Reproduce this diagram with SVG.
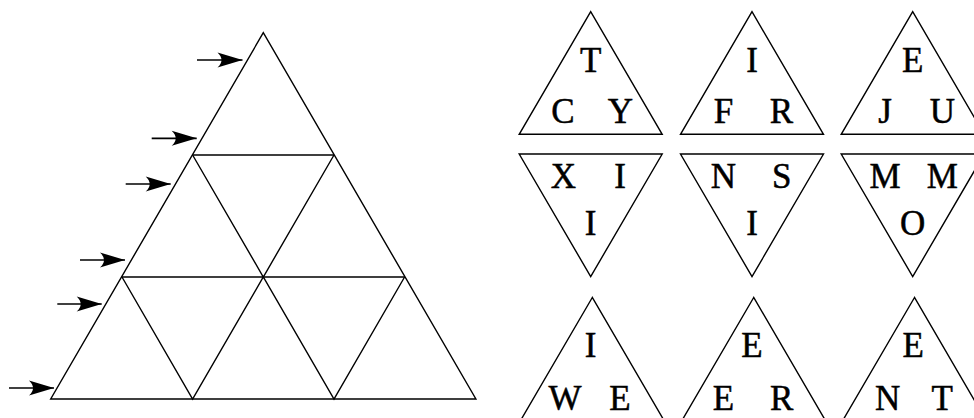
<svg xmlns="http://www.w3.org/2000/svg" width="974" height="418" viewBox="0 0 974 418">
<style>
.ln{fill:none;stroke:#000;stroke-width:1.4;stroke-linejoin:miter}
.ar{fill:none;stroke:#000;stroke-width:1.7}
.lt{font-family:"Liberation Serif","DejaVu Serif",serif;font-size:35px;fill:#000;stroke:#000;stroke-width:0.5;text-anchor:middle}
</style>
<defs>
<marker id="ah" markerUnits="userSpaceOnUse" markerWidth="30" markerHeight="20" refX="25" refY="7.5" orient="auto" overflow="visible">
<path d="M25,7.5 L0,0 Q8,7.5 0,15 Z" fill="#000"/>
</marker>
</defs>
<g id="big-triangle">
<path class="ln" d="M263.3,32.7 L50.7,399 L475.9,399 Z"/>
<path class="ln" d="M192.6,155 L334,155 M122,277 L404.6,277"/>
<path class="ln" d="M192.6,155 L263.3,277 L334,155"/>
<path class="ln" d="M122,277 L192.6,399 L263.3,277 L334,399 L404.6,277"/>
</g>
<g id="arrows">
<line class="ar" x1="197" y1="60" x2="242.5" y2="60" marker-end="url(#ah)"/>
<line class="ar" x1="151.7" y1="138.3" x2="196.7" y2="138.3" marker-end="url(#ah)"/>
<line class="ar" x1="125.7" y1="184" x2="170.7" y2="184" marker-end="url(#ah)"/>
<line class="ar" x1="80" y1="260" x2="125" y2="260" marker-end="url(#ah)"/>
<line class="ar" x1="57.3" y1="304" x2="101.7" y2="304" marker-end="url(#ah)"/>
<line class="ar" x1="9" y1="388" x2="54" y2="388" marker-end="url(#ah)"/>
</g>
<g id="tile-1-up">
<path class="ln" d="M590.7,11.7 L519.2,134.3 L662.2,134.3 Z"/>
<text class="lt" x="590.7" y="71.7">T</text>
<text class="lt" x="563" y="122.7">C</text>
<text class="lt" x="620.5" y="122.7">Y</text>
</g>
<g id="tile-2-up">
<path class="ln" d="M752,11.7 L680.5,134.3 L823.5,134.3 Z"/>
<text class="lt" x="752" y="71.7">I</text>
<text class="lt" x="723.5" y="122.7">F</text>
<text class="lt" x="781.5" y="122.7">R</text>
</g>
<g id="tile-3-up">
<path class="ln" d="M912.7,11.7 L841.2,134.3 L984.2,134.3 Z"/>
<text class="lt" x="912.7" y="71.7">E</text>
<text class="lt" x="885" y="122.7">J</text>
<text class="lt" x="942.3" y="122.7">U</text>
</g>
<g id="tile-1-down">
<path class="ln" d="M519.2,154 L662.2,154 L590.7,276.6 Z"/>
<text class="lt" x="563.3" y="188.3">X</text>
<text class="lt" x="620" y="188.3">I</text>
<text class="lt" x="590.7" y="235">I</text>
</g>
<g id="tile-2-down">
<path class="ln" d="M680.5,154 L823.5,154 L752,276.6 Z"/>
<text class="lt" x="723.3" y="188.3">N</text>
<text class="lt" x="781.7" y="188.3">S</text>
<text class="lt" x="752" y="235">I</text>
</g>
<g id="tile-3-down">
<path class="ln" d="M841.2,154 L984.2,154 L912.7,276.6 Z"/>
<text class="lt" x="885" y="188.3">M</text>
<text class="lt" x="942.3" y="188.3">M</text>
<text class="lt" x="912.7" y="235">O</text>
</g>
<g id="tile-4-up">
<path class="ln" d="M592.3,297.5 L520.8,420.1 L663.8,420.1 Z"/>
<text class="lt" x="590.5" y="357">I</text>
<text class="lt" x="565" y="409.5">W</text>
<text class="lt" x="620" y="409.5">E</text>
</g>
<g id="tile-5-up">
<path class="ln" d="M753.7,297.5 L682.2,420.1 L825.2,420.1 Z"/>
<text class="lt" x="752" y="357">E</text>
<text class="lt" x="723.5" y="409.5">E</text>
<text class="lt" x="781.7" y="409.5">R</text>
</g>
<g id="tile-6-up">
<path class="ln" d="M914.5,297.5 L843,420.1 L986,420.1 Z"/>
<text class="lt" x="913.3" y="357">E</text>
<text class="lt" x="887.7" y="409.5">N</text>
<text class="lt" x="942.3" y="409.5">T</text>
</g>
</svg>
